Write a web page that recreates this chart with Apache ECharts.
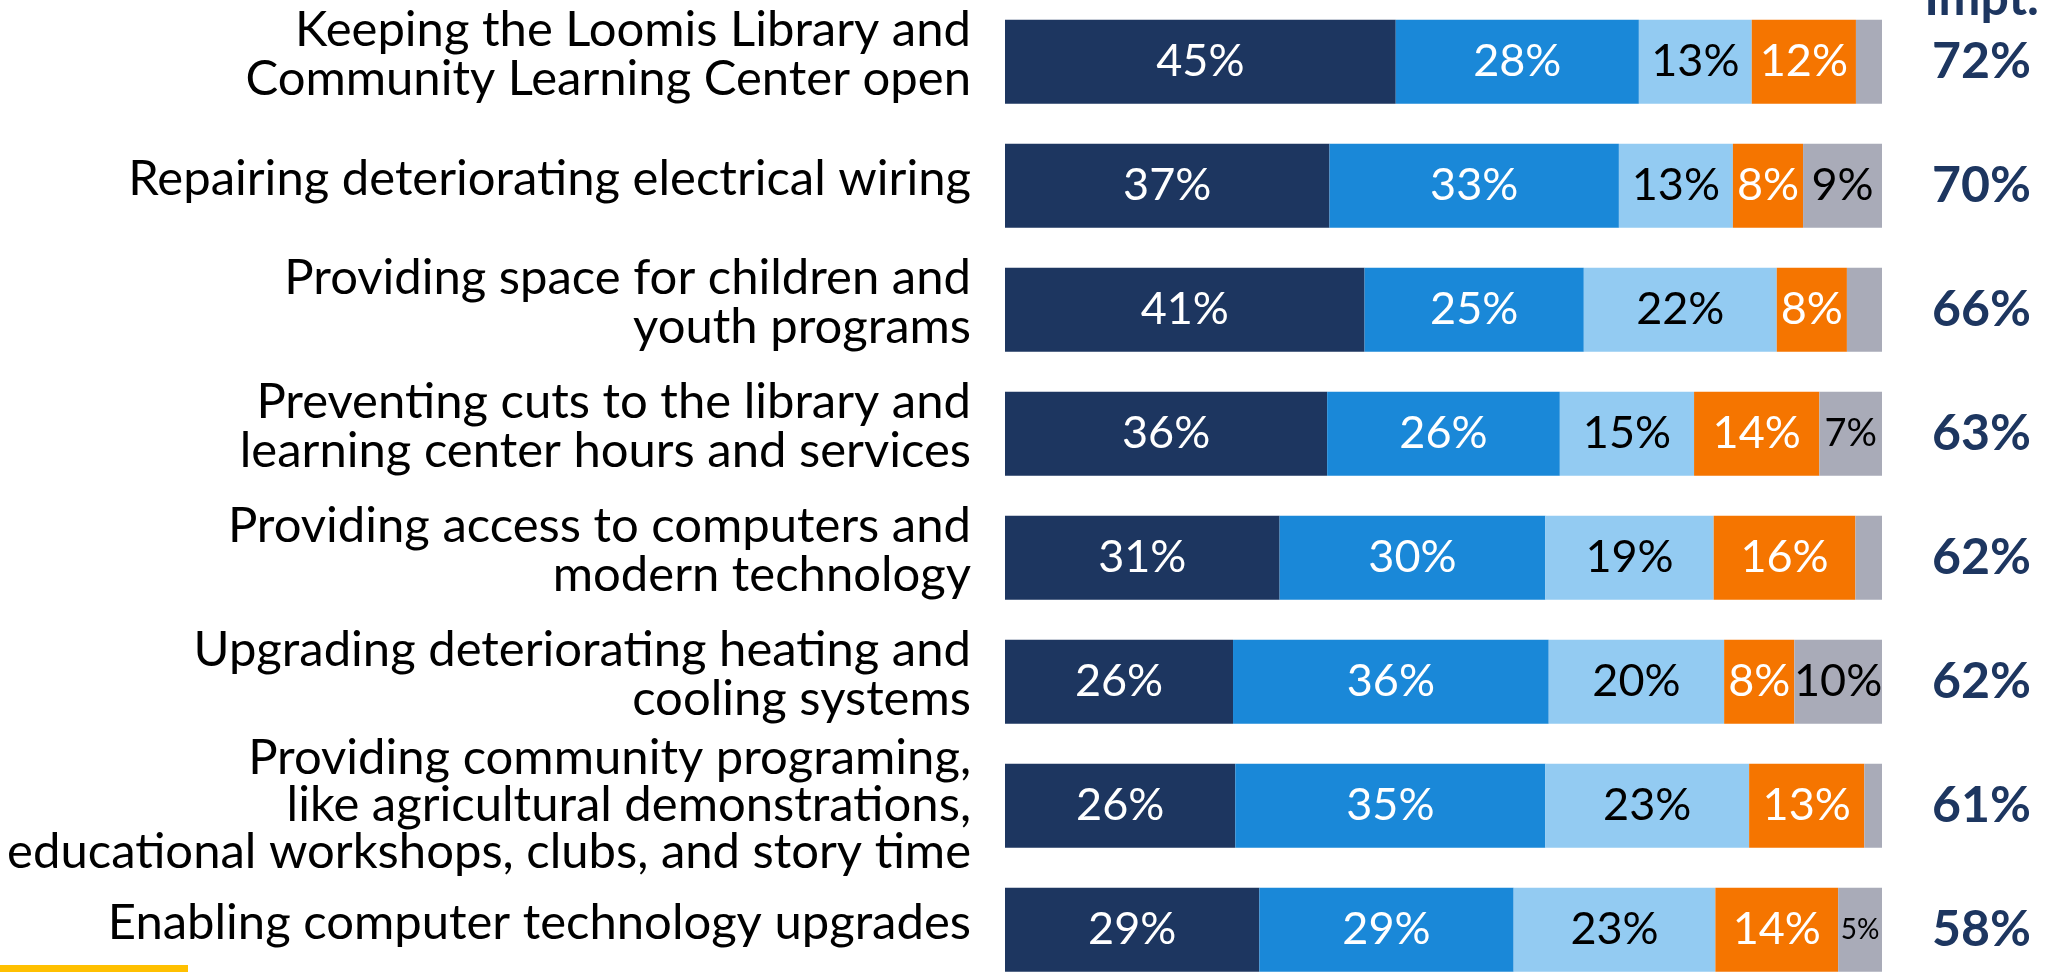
<!DOCTYPE html>
<html>
<head>
<meta charset="utf-8">
<script src="https://cdn.jsdelivr.net/npm/echarts@6/dist/echarts.min.js"></script>
<style>
  html, body { margin: 0; padding: 0; background: #fff; }
  #chart { width: 2049px; height: 972px; }
</style>
</head>
<body>
<div id="chart"></div>
<script>
// rows, top to bottom
const categories = [
  "Keeping the Loomis Library and\nCommunity Learning Center open",
  "Repairing deteriorating electrical wiring",
  "Providing space for children and\nyouth programs",
  "Preventing cuts to the library and\nlearning center hours and services",
  "Providing access to computers and\nmodern technology",
  "Upgrading deteriorating heating and\ncooling systems",
  "Providing community programing,\nlike agricultural demonstrations,\neducational workshops, clubs, and story time",
  "Enabling computer technology upgrades"
];

const extremely = [45, 37, 41, 36, 31, 26, 26, 29];
const very = [28, 33, 25, 26, 30, 36, 35, 29];
const somewhat = [13, 13, 22, 15, 19, 20, 23, 23];
const notImportant = [12, 8, 8, 14, 16, 8, 13, 14];
const dontKnow = [3, 9, 4, 7, 3, 10, 2, 5];

// extremely + very important
const totalImpt = [72, 70, 66, 63, 62, 62, 61, 58];

const FONT = "Lato";
const NAVY = "#1d3660";

const segments = [
  { name: "Extremely important", values: extremely, color: "#1d3660", text: "#fff" },
  { name: "Very important", values: very, color: "#1a88d8", text: "#fff" },
  { name: "Somewhat important", values: somewhat, color: "#93cbf2", text: "#000" },
  { name: "Not important", values: notImportant, color: "#f57500", text: "#fff" },
  { name: "Don't know", values: dontKnow, color: "#a9abb8", text: "#000" }
];

// each row is drawn as a share of its own total so every bar fills the width
const rowTotals = categories.map((_, i) =>
  segments.reduce((sum, s) => sum + s.values[i], 0)
);

function labelSize(v) {
  if (v >= 8) return 45;
  if (v >= 7) return 38;
  return 28;
}

function categoryLabel(value) {
  const lines = value.split("\n");
  if (lines.length > 2) {
    return lines.map((l) => "{t3|" + l + "}").join("\n");
  }
  // a short empty last line nudges the text block up a little
  return lines.map((l) => "{t|" + l + "}").join("\n") + "\n{s|}";
}

const chart = echarts.init(document.getElementById("chart"), null, { renderer: "canvas" });

chart.setOption({
  animation: false,
  textStyle: { fontFamily: FONT },
  grid: {
    left: 1005,
    width: 877,
    top: -0.3,
    height: 992,
    containLabel: false,
    outerBoundsMode: "none"
  },
  xAxis: {
    type: "value",
    min: 0,
    max: 100,
    show: false
  },
  yAxis: [
    {
      type: "category",
      data: categories,
      inverse: true,
      axisLine: { show: false },
      axisTick: { show: false },
      axisLabel: {
        margin: 34,
        align: "right",
        formatter: categoryLabel,
        rich: {
          t: { color: "#000", fontFamily: FONT, fontSize: 49, lineHeight: 49, align: "right" },
          t3: { color: "#000", fontFamily: FONT, fontSize: 49, lineHeight: 47, align: "right" },
          s: { fontSize: 1, lineHeight: 13 }
        }
      }
    },
    {
      type: "category",
      data: categories,
      inverse: true,
      position: "right",
      axisLine: { show: false },
      axisTick: { show: false },
      axisLabel: {
        margin: 149,
        align: "right",
        color: NAVY,
        fontFamily: FONT,
        fontWeight: "bold",
        fontSize: 50,
        formatter: (value, index) => totalImpt[index] + "%"
      }
    }
  ],
  series: segments.map((s) => ({
    name: s.name,
    type: "bar",
    stack: "total",
    barWidth: 84,
    itemStyle: { color: s.color },
    label: {
      show: true,
      position: "inside",
      color: s.text,
      fontFamily: FONT,
      fontSize: 45,
      formatter: (p) => s.values[p.dataIndex] + "%"
    },
    data: s.values.map((v, i) => ({
      value: (v / rowTotals[i]) * 100,
      label: v < 5 ? { show: false } : { fontSize: labelSize(v) }
    }))
  })),
  graphic: [
    {
      type: "text",
      right: 10,
      top: -26,
      style: {
        text: "Impt.",
        fill: NAVY,
        font: "bold 50px " + FONT
      }
    },
    {
      type: "rect",
      left: 0,
      top: 965,
      shape: { width: 188, height: 7 },
      style: { fill: "#ffc000" }
    }
  ]
});
</script>
</body>
</html>
